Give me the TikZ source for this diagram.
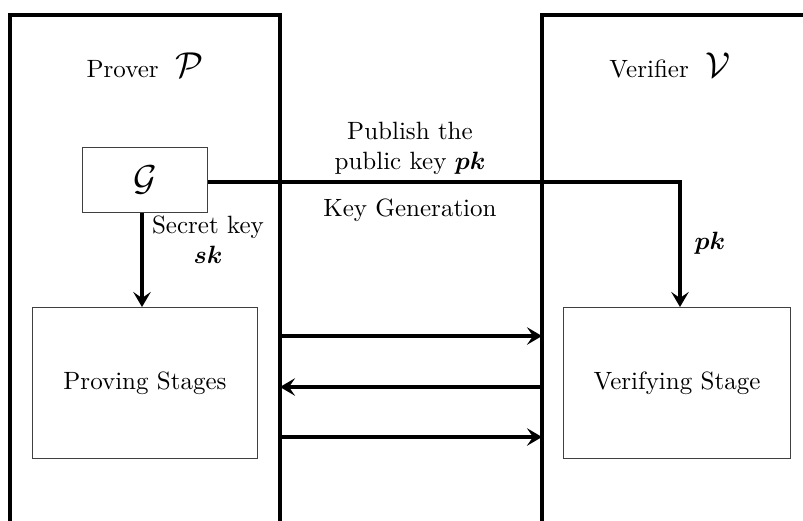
\documentclass[tikz,border=0pt]{standalone}
\usepackage{amsmath,amssymb}
\usetikzlibrary{positioning,arrows.meta}

\begin{document}
\begin{tikzpicture}[x=0.4pt,y=-0.4pt,
  lane/.style={line width=1.3pt},
  block/.style={shape=rectangle,draw=black!75,line width=0.4pt,align=center},
  flow/.style={-{Stealth[length=6pt,width=7pt,inset=2.4pt]},line width=1.3pt},
  lbl/.style={align=center,inner sep=0pt}]
\useasboundingbox (0,0) rectangle (803,521);

% prover and verifier lanes
\draw[lane] (10,521) -- (10,15) -- (280,15) -- (280,521);
\draw[lane] (542,521) -- (542,15) -- (803,15);
\node[lbl] (0) at (145,65) {Prover\ \ {\Large$\mathcal{P}$}};
\node[lbl] (1) at (670,65) {Verifier\ \ {\Large$\mathcal{V}$}};

% blocks
\node[block,minimum width=49.6pt,minimum height=26pt] (2) at (145,180) {\Large$\mathcal{G}$};
\node[block,minimum width=89.6pt,minimum height=60.4pt] (3) at (145,383) {Proving Stages};
\node[block,minimum width=90.8pt,minimum height=60.4pt] (4) at (677,383) {Verifying Stage};

% key generation
\path [flow] ([xshift=-1.2pt]2.south) edge node {} ([xshift=-1.2pt]3.north);
\draw [flow] ([yshift=-0.8pt]2.east) -| ([xshift=1.2pt]4.north);
\node[lbl] (5) at (208,240) {Secret key\\$\boldsymbol{sk}$};
\node[lbl] (6) at (410,148) {Publish the\\public key $\boldsymbol{pk}$};
\node[lbl] (7) at (410,210) {Key Generation};
\node[lbl] (8) at (710,243) {$\boldsymbol{pk}$};

% message exchange
\coordinate (p1) at (280,336);
\coordinate (v1) at (542,336);
\coordinate (p2) at (280,387);
\coordinate (v2) at (542,387);
\coordinate (p3) at (280,437);
\coordinate (v3) at (542,437);
\path [flow] (p1) edge node {} (v1);
\path [flow] (v2) edge node {} (p2);
\path [flow] (p3) edge node {} (v3);
\end{tikzpicture}
\end{document}
